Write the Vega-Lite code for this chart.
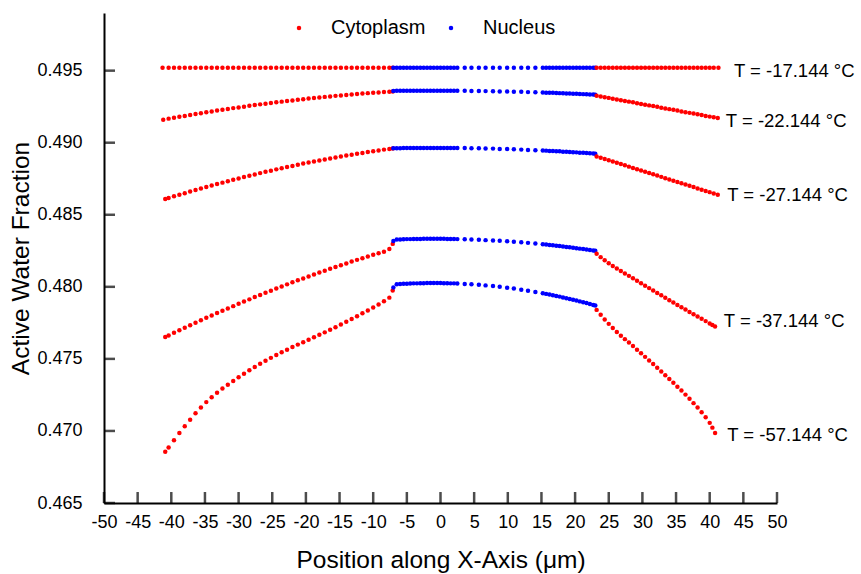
{"$schema":"https://vega.github.io/schema/vega-lite/v6.json","width":673,"height":490,"autosize":{"type":"none"},"padding":{"left":104,"top":13,"right":84,"bottom":71},"background":"white",
"config":{"view":{"stroke":null},"font":"Liberation Sans","axis":{"grid":false,"domainColor":"black","tickColor":"black","labelColor":"black","titleColor":"black","domainWidth":2,"tickWidth":2,"labelFont":"Liberation Sans","titleFont":"Liberation Sans","labelFontSize":18,"titleFontSize":24.5,"titleFontWeight":"normal"}},
"datasets":{
"xt":[{"v":-50},{"v":-45},{"v":-40},{"v":-35},{"v":-30},{"v":-25},{"v":-20},{"v":-15},{"v":-10},{"v":-5},{"v":0},{"v":5},{"v":10},{"v":15},{"v":20},{"v":25},{"v":30},{"v":35},{"v":40},{"v":45},{"v":50}],
"yt":[{"v":0.465},{"v":0.47},{"v":0.475},{"v":0.48},{"v":0.485},{"v":0.49},{"v":0.495}],
"labels":[{"x":43.6,"y":0.4950,"t":"T = -17.144 °C"},{"x":42.4,"y":0.49153,"t":"T = -22.144 °C"},{"x":42.6,"y":0.48639,"t":"T = -27.144 °C"},{"x":42.1,"y":0.47764,"t":"T = -37.144 °C"},{"x":42.6,"y":0.46972,"t":"T = -57.144 °C"}],
"pts":[
{"x":-41.3,"y":0.4952,"r":"C"},{"x":-40.4,"y":0.4952,"r":"C"},{"x":-39.6,"y":0.4952,"r":"C"},{"x":-38.8,"y":0.4952,"r":"C"},{"x":-38.0,"y":0.4952,"r":"C"},{"x":-37.2,"y":0.4952,"r":"C"},{"x":-36.4,"y":0.4952,"r":"C"},{"x":-35.6,"y":0.4952,"r":"C"},{"x":-34.8,"y":0.4952,"r":"C"},{"x":-34.0,"y":0.4952,"r":"C"},{"x":-33.2,"y":0.4952,"r":"C"},{"x":-32.4,"y":0.4952,"r":"C"},{"x":-31.6,"y":0.4952,"r":"C"},{"x":-30.8,"y":0.4952,"r":"C"},{"x":-30.0,"y":0.4952,"r":"C"},{"x":-29.2,"y":0.4952,"r":"C"},{"x":-28.4,"y":0.4952,"r":"C"},{"x":-27.6,"y":0.4952,"r":"C"},{"x":-26.8,"y":0.4952,"r":"C"},{"x":-26.0,"y":0.4952,"r":"C"},{"x":-25.2,"y":0.4952,"r":"C"},{"x":-24.4,"y":0.4952,"r":"C"},{"x":-23.6,"y":0.4952,"r":"C"},{"x":-22.8,"y":0.4952,"r":"C"},{"x":-22.0,"y":0.4952,"r":"C"},{"x":-21.2,"y":0.4952,"r":"C"},{"x":-20.4,"y":0.4952,"r":"C"},{"x":-19.6,"y":0.4952,"r":"C"},{"x":-18.8,"y":0.4952,"r":"C"},{"x":-18.0,"y":0.4952,"r":"C"},{"x":-17.2,"y":0.4952,"r":"C"},{"x":-16.4,"y":0.4952,"r":"C"},{"x":-15.6,"y":0.4952,"r":"C"},{"x":-14.8,"y":0.4952,"r":"C"},{"x":-14.0,"y":0.4952,"r":"C"},{"x":-13.2,"y":0.4952,"r":"C"},{"x":-12.4,"y":0.4952,"r":"C"},{"x":-11.6,"y":0.4952,"r":"C"},{"x":-10.8,"y":0.4952,"r":"C"},{"x":-10.0,"y":0.4952,"r":"C"},{"x":-9.2,"y":0.4952,"r":"C"},{"x":-8.4,"y":0.4952,"r":"C"},{"x":-7.6,"y":0.4952,"r":"C"},{"x":-7.1,"y":0.4952,"r":"C"},
{"x":-7.0,"y":0.4952,"r":"N"},{"x":-6.5,"y":0.4952,"r":"N"},{"x":-6.0,"y":0.4952,"r":"N"},{"x":-5.5,"y":0.4952,"r":"N"},{"x":-5.0,"y":0.4952,"r":"N"},{"x":-4.5,"y":0.4952,"r":"N"},{"x":-4.0,"y":0.4952,"r":"N"},{"x":-3.5,"y":0.4952,"r":"N"},{"x":-3.0,"y":0.4952,"r":"N"},{"x":-2.5,"y":0.4952,"r":"N"},{"x":-2.0,"y":0.4952,"r":"N"},{"x":-1.5,"y":0.4952,"r":"N"},{"x":-1.0,"y":0.4952,"r":"N"},{"x":-0.5,"y":0.4952,"r":"N"},{"x":0,"y":0.4952,"r":"N"},{"x":0.5,"y":0.4952,"r":"N"},{"x":1.0,"y":0.4952,"r":"N"},{"x":1.5,"y":0.4952,"r":"N"},{"x":2.0,"y":0.4952,"r":"N"},{"x":2.5,"y":0.4952,"r":"N"},{"x":3.6,"y":0.4952,"r":"N"},{"x":4.6,"y":0.4952,"r":"N"},{"x":5.7,"y":0.4952,"r":"N"},{"x":6.7,"y":0.4952,"r":"N"},{"x":7.8,"y":0.4952,"r":"N"},{"x":8.8,"y":0.4952,"r":"N"},{"x":9.9,"y":0.4952,"r":"N"},{"x":10.9,"y":0.4952,"r":"N"},{"x":12.0,"y":0.4952,"r":"N"},{"x":13.0,"y":0.4952,"r":"N"},{"x":14.1,"y":0.4952,"r":"N"},{"x":15.2,"y":0.4952,"r":"N"},{"x":15.7,"y":0.4952,"r":"N"},{"x":16.2,"y":0.4952,"r":"N"},{"x":16.7,"y":0.4952,"r":"N"},{"x":17.2,"y":0.4952,"r":"N"},{"x":17.7,"y":0.4952,"r":"N"},{"x":18.2,"y":0.4952,"r":"N"},{"x":18.7,"y":0.4952,"r":"N"},{"x":19.2,"y":0.4952,"r":"N"},{"x":19.7,"y":0.4952,"r":"N"},{"x":20.2,"y":0.4952,"r":"N"},{"x":20.7,"y":0.4952,"r":"N"},{"x":21.2,"y":0.4952,"r":"N"},{"x":21.7,"y":0.4952,"r":"N"},{"x":22.2,"y":0.4952,"r":"N"},{"x":22.7,"y":0.4952,"r":"N"},{"x":23.0,"y":0.4952,"r":"N"},
{"x":23.2,"y":0.4952,"r":"C"},{"x":23.8,"y":0.4952,"r":"C"},{"x":24.4,"y":0.4952,"r":"C"},{"x":25.0,"y":0.4952,"r":"C"},{"x":25.6,"y":0.4952,"r":"C"},{"x":26.2,"y":0.4952,"r":"C"},{"x":26.8,"y":0.4952,"r":"C"},{"x":27.4,"y":0.4952,"r":"C"},{"x":28.0,"y":0.4952,"r":"C"},{"x":28.6,"y":0.4952,"r":"C"},{"x":29.2,"y":0.4952,"r":"C"},{"x":29.8,"y":0.4952,"r":"C"},{"x":30.4,"y":0.4952,"r":"C"},{"x":31.0,"y":0.4952,"r":"C"},{"x":31.6,"y":0.4952,"r":"C"},{"x":32.2,"y":0.4952,"r":"C"},{"x":32.8,"y":0.4952,"r":"C"},{"x":33.4,"y":0.4952,"r":"C"},{"x":34.0,"y":0.4952,"r":"C"},{"x":34.6,"y":0.4952,"r":"C"},{"x":35.2,"y":0.4952,"r":"C"},{"x":35.8,"y":0.4952,"r":"C"},{"x":36.4,"y":0.4952,"r":"C"},{"x":37.0,"y":0.4952,"r":"C"},{"x":37.6,"y":0.4952,"r":"C"},{"x":38.2,"y":0.4952,"r":"C"},{"x":38.8,"y":0.4952,"r":"C"},{"x":39.4,"y":0.4952,"r":"C"},{"x":40.0,"y":0.4952,"r":"C"},{"x":40.6,"y":0.4952,"r":"C"},{"x":41.3,"y":0.4952,"r":"C"},
{"x":-41.2,"y":0.49160,"r":"C"},{"x":-40.4,"y":0.49167,"r":"C"},{"x":-39.6,"y":0.49173,"r":"C"},{"x":-38.8,"y":0.49180,"r":"C"},{"x":-38.0,"y":0.49186,"r":"C"},{"x":-37.2,"y":0.49193,"r":"C"},{"x":-36.4,"y":0.49199,"r":"C"},{"x":-35.6,"y":0.49205,"r":"C"},{"x":-34.8,"y":0.49211,"r":"C"},{"x":-34.0,"y":0.49217,"r":"C"},{"x":-33.2,"y":0.49223,"r":"C"},{"x":-32.4,"y":0.49229,"r":"C"},{"x":-31.6,"y":0.49234,"r":"C"},{"x":-30.8,"y":0.49240,"r":"C"},{"x":-30.0,"y":0.49245,"r":"C"},{"x":-29.2,"y":0.49250,"r":"C"},{"x":-28.4,"y":0.49256,"r":"C"},{"x":-27.6,"y":0.49261,"r":"C"},{"x":-26.8,"y":0.49266,"r":"C"},{"x":-26.0,"y":0.49271,"r":"C"},{"x":-25.2,"y":0.49275,"r":"C"},{"x":-24.4,"y":0.49280,"r":"C"},{"x":-23.6,"y":0.49285,"r":"C"},{"x":-22.8,"y":0.49289,"r":"C"},{"x":-22.0,"y":0.49293,"r":"C"},{"x":-21.2,"y":0.49298,"r":"C"},{"x":-20.4,"y":0.49302,"r":"C"},{"x":-19.6,"y":0.49306,"r":"C"},{"x":-18.8,"y":0.49310,"r":"C"},{"x":-18.0,"y":0.49314,"r":"C"},{"x":-17.2,"y":0.49318,"r":"C"},{"x":-16.4,"y":0.49321,"r":"C"},{"x":-15.6,"y":0.49325,"r":"C"},{"x":-14.8,"y":0.49328,"r":"C"},{"x":-14.0,"y":0.49331,"r":"C"},{"x":-13.2,"y":0.49335,"r":"C"},{"x":-12.4,"y":0.49338,"r":"C"},{"x":-11.6,"y":0.49341,"r":"C"},{"x":-10.8,"y":0.49344,"r":"C"},{"x":-10.0,"y":0.49347,"r":"C"},{"x":-9.2,"y":0.49349,"r":"C"},{"x":-8.4,"y":0.49352,"r":"C"},{"x":-7.6,"y":0.49354,"r":"C"},{"x":-7.1,"y":0.49356,"r":"C"},
{"x":-7.0,"y":0.49359,"r":"N"},{"x":-6.5,"y":0.49360,"r":"N"},{"x":-6.0,"y":0.49360,"r":"N"},{"x":-5.5,"y":0.49360,"r":"N"},{"x":-5.0,"y":0.49360,"r":"N"},{"x":-4.5,"y":0.49360,"r":"N"},{"x":-4.0,"y":0.49361,"r":"N"},{"x":-3.5,"y":0.49361,"r":"N"},{"x":-3.0,"y":0.49361,"r":"N"},{"x":-2.5,"y":0.49361,"r":"N"},{"x":-2.0,"y":0.49361,"r":"N"},{"x":-1.5,"y":0.49361,"r":"N"},{"x":-1.0,"y":0.49361,"r":"N"},{"x":-0.5,"y":0.49361,"r":"N"},{"x":0,"y":0.49361,"r":"N"},{"x":0.5,"y":0.49361,"r":"N"},{"x":1.0,"y":0.49361,"r":"N"},{"x":1.5,"y":0.49361,"r":"N"},{"x":2.0,"y":0.49361,"r":"N"},{"x":2.5,"y":0.49360,"r":"N"},{"x":3.6,"y":0.49360,"r":"N"},{"x":4.6,"y":0.49359,"r":"N"},{"x":5.7,"y":0.49359,"r":"N"},{"x":6.7,"y":0.49358,"r":"N"},{"x":7.8,"y":0.49357,"r":"N"},{"x":8.8,"y":0.49356,"r":"N"},{"x":9.9,"y":0.49355,"r":"N"},{"x":10.9,"y":0.49354,"r":"N"},{"x":12.0,"y":0.49353,"r":"N"},{"x":13.0,"y":0.49351,"r":"N"},{"x":14.1,"y":0.49350,"r":"N"},{"x":15.2,"y":0.49348,"r":"N"},{"x":15.7,"y":0.49347,"r":"N"},{"x":16.2,"y":0.49347,"r":"N"},{"x":16.7,"y":0.49346,"r":"N"},{"x":17.2,"y":0.49345,"r":"N"},{"x":17.7,"y":0.49344,"r":"N"},{"x":18.2,"y":0.49343,"r":"N"},{"x":18.7,"y":0.49342,"r":"N"},{"x":19.2,"y":0.49341,"r":"N"},{"x":19.7,"y":0.49340,"r":"N"},{"x":20.2,"y":0.49339,"r":"N"},{"x":20.7,"y":0.49338,"r":"N"},{"x":21.2,"y":0.49337,"r":"N"},{"x":21.7,"y":0.49336,"r":"N"},{"x":22.2,"y":0.49335,"r":"N"},{"x":22.7,"y":0.49334,"r":"N"},{"x":23.0,"y":0.49333,"r":"N"},
{"x":23.2,"y":0.49326,"r":"C"},{"x":23.8,"y":0.49321,"r":"C"},{"x":24.4,"y":0.49316,"r":"C"},{"x":25.0,"y":0.49311,"r":"C"},{"x":25.6,"y":0.49305,"r":"C"},{"x":26.2,"y":0.49300,"r":"C"},{"x":26.8,"y":0.49295,"r":"C"},{"x":27.4,"y":0.49290,"r":"C"},{"x":28.0,"y":0.49285,"r":"C"},{"x":28.6,"y":0.49280,"r":"C"},{"x":29.2,"y":0.49274,"r":"C"},{"x":29.8,"y":0.49269,"r":"C"},{"x":30.4,"y":0.49264,"r":"C"},{"x":31.0,"y":0.49259,"r":"C"},{"x":31.6,"y":0.49254,"r":"C"},{"x":32.2,"y":0.49249,"r":"C"},{"x":32.8,"y":0.49243,"r":"C"},{"x":33.4,"y":0.49238,"r":"C"},{"x":34.0,"y":0.49233,"r":"C"},{"x":34.6,"y":0.49228,"r":"C"},{"x":35.2,"y":0.49223,"r":"C"},{"x":35.8,"y":0.49217,"r":"C"},{"x":36.4,"y":0.49212,"r":"C"},{"x":37.0,"y":0.49207,"r":"C"},{"x":37.6,"y":0.49202,"r":"C"},{"x":38.2,"y":0.49197,"r":"C"},{"x":38.8,"y":0.49192,"r":"C"},{"x":39.4,"y":0.49186,"r":"C"},{"x":40.0,"y":0.49181,"r":"C"},{"x":40.6,"y":0.49176,"r":"C"},{"x":41.2,"y":0.49171,"r":"C"},
{"x":-40.9,"y":0.48609,"r":"C"},{"x":-40.4,"y":0.48616,"r":"C"},{"x":-39.6,"y":0.48628,"r":"C"},{"x":-38.8,"y":0.48639,"r":"C"},{"x":-38.0,"y":0.48650,"r":"C"},{"x":-37.2,"y":0.48661,"r":"C"},{"x":-36.4,"y":0.48672,"r":"C"},{"x":-35.6,"y":0.48682,"r":"C"},{"x":-34.8,"y":0.48693,"r":"C"},{"x":-34.0,"y":0.48703,"r":"C"},{"x":-33.2,"y":0.48713,"r":"C"},{"x":-32.4,"y":0.48723,"r":"C"},{"x":-31.6,"y":0.48733,"r":"C"},{"x":-30.8,"y":0.48743,"r":"C"},{"x":-30.0,"y":0.48752,"r":"C"},{"x":-29.2,"y":0.48762,"r":"C"},{"x":-28.4,"y":0.48771,"r":"C"},{"x":-27.6,"y":0.48780,"r":"C"},{"x":-26.8,"y":0.48789,"r":"C"},{"x":-26.0,"y":0.48798,"r":"C"},{"x":-25.2,"y":0.48806,"r":"C"},{"x":-24.4,"y":0.48815,"r":"C"},{"x":-23.6,"y":0.48823,"r":"C"},{"x":-22.8,"y":0.48831,"r":"C"},{"x":-22.0,"y":0.48839,"r":"C"},{"x":-21.2,"y":0.48847,"r":"C"},{"x":-20.4,"y":0.48855,"r":"C"},{"x":-19.6,"y":0.48862,"r":"C"},{"x":-18.8,"y":0.48869,"r":"C"},{"x":-18.0,"y":0.48877,"r":"C"},{"x":-17.2,"y":0.48884,"r":"C"},{"x":-16.4,"y":0.48891,"r":"C"},{"x":-15.6,"y":0.48897,"r":"C"},{"x":-14.8,"y":0.48904,"r":"C"},{"x":-14.0,"y":0.48911,"r":"C"},{"x":-13.2,"y":0.48917,"r":"C"},{"x":-12.4,"y":0.48923,"r":"C"},{"x":-11.6,"y":0.48929,"r":"C"},{"x":-10.8,"y":0.48935,"r":"C"},{"x":-10.0,"y":0.48941,"r":"C"},{"x":-9.2,"y":0.48946,"r":"C"},{"x":-8.4,"y":0.48952,"r":"C"},{"x":-7.6,"y":0.48957,"r":"C"},{"x":-7.1,"y":0.48960,"r":"C"},
{"x":-7.0,"y":0.48962,"r":"N"},{"x":-6.5,"y":0.48962,"r":"N"},{"x":-6.0,"y":0.48962,"r":"N"},{"x":-5.5,"y":0.48963,"r":"N"},{"x":-5.0,"y":0.48963,"r":"N"},{"x":-4.5,"y":0.48963,"r":"N"},{"x":-4.0,"y":0.48963,"r":"N"},{"x":-3.5,"y":0.48964,"r":"N"},{"x":-3.0,"y":0.48964,"r":"N"},{"x":-2.5,"y":0.48964,"r":"N"},{"x":-2.0,"y":0.48964,"r":"N"},{"x":-1.5,"y":0.48964,"r":"N"},{"x":-1.0,"y":0.48964,"r":"N"},{"x":-0.5,"y":0.48964,"r":"N"},{"x":0,"y":0.48964,"r":"N"},{"x":0.5,"y":0.48964,"r":"N"},{"x":1.0,"y":0.48964,"r":"N"},{"x":1.5,"y":0.48964,"r":"N"},{"x":2.0,"y":0.48963,"r":"N"},{"x":2.5,"y":0.48963,"r":"N"},{"x":3.6,"y":0.48963,"r":"N"},{"x":4.6,"y":0.48962,"r":"N"},{"x":5.7,"y":0.48961,"r":"N"},{"x":6.7,"y":0.48960,"r":"N"},{"x":7.8,"y":0.48959,"r":"N"},{"x":8.8,"y":0.48957,"r":"N"},{"x":9.9,"y":0.48956,"r":"N"},{"x":10.9,"y":0.48954,"r":"N"},{"x":12.0,"y":0.48952,"r":"N"},{"x":13.0,"y":0.48950,"r":"N"},{"x":14.1,"y":0.48948,"r":"N"},{"x":15.2,"y":0.48946,"r":"N"},{"x":15.7,"y":0.48945,"r":"N"},{"x":16.2,"y":0.48943,"r":"N"},{"x":16.7,"y":0.48942,"r":"N"},{"x":17.2,"y":0.48941,"r":"N"},{"x":17.7,"y":0.48940,"r":"N"},{"x":18.2,"y":0.48938,"r":"N"},{"x":18.7,"y":0.48937,"r":"N"},{"x":19.2,"y":0.48936,"r":"N"},{"x":19.7,"y":0.48934,"r":"N"},{"x":20.2,"y":0.48933,"r":"N"},{"x":20.7,"y":0.48931,"r":"N"},{"x":21.2,"y":0.48930,"r":"N"},{"x":21.7,"y":0.48928,"r":"N"},{"x":22.2,"y":0.48927,"r":"N"},{"x":22.7,"y":0.48925,"r":"N"},{"x":23.0,"y":0.48924,"r":"N"},
{"x":23.2,"y":0.48905,"r":"C"},{"x":23.8,"y":0.48896,"r":"C"},{"x":24.4,"y":0.48887,"r":"C"},{"x":25.0,"y":0.48878,"r":"C"},{"x":25.6,"y":0.48870,"r":"C"},{"x":26.2,"y":0.48861,"r":"C"},{"x":26.8,"y":0.48852,"r":"C"},{"x":27.4,"y":0.48843,"r":"C"},{"x":28.0,"y":0.48834,"r":"C"},{"x":28.6,"y":0.48825,"r":"C"},{"x":29.2,"y":0.48816,"r":"C"},{"x":29.8,"y":0.48807,"r":"C"},{"x":30.4,"y":0.48799,"r":"C"},{"x":31.0,"y":0.48790,"r":"C"},{"x":31.6,"y":0.48781,"r":"C"},{"x":32.2,"y":0.48772,"r":"C"},{"x":32.8,"y":0.48763,"r":"C"},{"x":33.4,"y":0.48754,"r":"C"},{"x":34.0,"y":0.48745,"r":"C"},{"x":34.6,"y":0.48736,"r":"C"},{"x":35.2,"y":0.48728,"r":"C"},{"x":35.8,"y":0.48719,"r":"C"},{"x":36.4,"y":0.48710,"r":"C"},{"x":37.0,"y":0.48701,"r":"C"},{"x":37.6,"y":0.48692,"r":"C"},{"x":38.2,"y":0.48683,"r":"C"},{"x":38.8,"y":0.48674,"r":"C"},{"x":39.4,"y":0.48665,"r":"C"},{"x":40.0,"y":0.48657,"r":"C"},{"x":40.6,"y":0.48648,"r":"C"},{"x":41.2,"y":0.48639,"r":"C"},
{"x":-40.9,"y":0.47652,"r":"C"},{"x":-40.4,"y":0.47663,"r":"C"},{"x":-39.6,"y":0.47681,"r":"C"},{"x":-38.8,"y":0.47699,"r":"C"},{"x":-38.0,"y":0.47716,"r":"C"},{"x":-37.2,"y":0.47734,"r":"C"},{"x":-36.4,"y":0.47751,"r":"C"},{"x":-35.6,"y":0.47768,"r":"C"},{"x":-34.8,"y":0.47785,"r":"C"},{"x":-34.0,"y":0.47801,"r":"C"},{"x":-33.2,"y":0.47818,"r":"C"},{"x":-32.4,"y":0.47834,"r":"C"},{"x":-31.6,"y":0.47850,"r":"C"},{"x":-30.8,"y":0.47866,"r":"C"},{"x":-30.0,"y":0.47882,"r":"C"},{"x":-29.2,"y":0.47898,"r":"C"},{"x":-28.4,"y":0.47913,"r":"C"},{"x":-27.6,"y":0.47929,"r":"C"},{"x":-26.8,"y":0.47944,"r":"C"},{"x":-26.0,"y":0.47959,"r":"C"},{"x":-25.2,"y":0.47973,"r":"C"},{"x":-24.4,"y":0.47988,"r":"C"},{"x":-23.6,"y":0.48002,"r":"C"},{"x":-22.8,"y":0.48017,"r":"C"},{"x":-22.0,"y":0.48031,"r":"C"},{"x":-21.2,"y":0.48045,"r":"C"},{"x":-20.4,"y":0.48058,"r":"C"},{"x":-19.6,"y":0.48072,"r":"C"},{"x":-18.8,"y":0.48086,"r":"C"},{"x":-18.0,"y":0.48099,"r":"C"},{"x":-17.2,"y":0.48112,"r":"C"},{"x":-16.4,"y":0.48125,"r":"C"},{"x":-15.6,"y":0.48137,"r":"C"},{"x":-14.8,"y":0.48150,"r":"C"},{"x":-14.0,"y":0.48162,"r":"C"},{"x":-13.2,"y":0.48175,"r":"C"},{"x":-12.4,"y":0.48187,"r":"C"},{"x":-11.6,"y":0.48198,"r":"C"},{"x":-10.8,"y":0.48210,"r":"C"},{"x":-10.0,"y":0.48222,"r":"C"},{"x":-9.2,"y":0.48233,"r":"C"},{"x":-8.4,"y":0.48244,"r":"C"},{"x":-7.6,"y":0.48262,"r":"C"},{"x":-7.1,"y":0.48298,"r":"C"},
{"x":-7.0,"y":0.48318,"r":"N"},{"x":-6.5,"y":0.48329,"r":"N"},{"x":-6.0,"y":0.48329,"r":"N"},{"x":-5.5,"y":0.48330,"r":"N"},{"x":-5.0,"y":0.48331,"r":"N"},{"x":-4.5,"y":0.48331,"r":"N"},{"x":-4.0,"y":0.48332,"r":"N"},{"x":-3.5,"y":0.48332,"r":"N"},{"x":-3.0,"y":0.48332,"r":"N"},{"x":-2.5,"y":0.48333,"r":"N"},{"x":-2.0,"y":0.48333,"r":"N"},{"x":-1.5,"y":0.48333,"r":"N"},{"x":-1.0,"y":0.48333,"r":"N"},{"x":-0.5,"y":0.48333,"r":"N"},{"x":0,"y":0.48333,"r":"N"},{"x":0.5,"y":0.48333,"r":"N"},{"x":1.0,"y":0.48332,"r":"N"},{"x":1.5,"y":0.48332,"r":"N"},{"x":2.0,"y":0.48332,"r":"N"},{"x":2.5,"y":0.48331,"r":"N"},{"x":3.6,"y":0.48330,"r":"N"},{"x":4.6,"y":0.48328,"r":"N"},{"x":5.7,"y":0.48327,"r":"N"},{"x":6.7,"y":0.48324,"r":"N"},{"x":7.8,"y":0.48322,"r":"N"},{"x":8.8,"y":0.48319,"r":"N"},{"x":9.9,"y":0.48316,"r":"N"},{"x":10.9,"y":0.48313,"r":"N"},{"x":12.0,"y":0.48309,"r":"N"},{"x":13.0,"y":0.48305,"r":"N"},{"x":14.1,"y":0.48300,"r":"N"},{"x":15.2,"y":0.48295,"r":"N"},{"x":15.7,"y":0.48293,"r":"N"},{"x":16.2,"y":0.48290,"r":"N"},{"x":16.7,"y":0.48288,"r":"N"},{"x":17.2,"y":0.48285,"r":"N"},{"x":17.7,"y":0.48283,"r":"N"},{"x":18.2,"y":0.48280,"r":"N"},{"x":18.7,"y":0.48277,"r":"N"},{"x":19.2,"y":0.48274,"r":"N"},{"x":19.7,"y":0.48271,"r":"N"},{"x":20.2,"y":0.48268,"r":"N"},{"x":20.7,"y":0.48265,"r":"N"},{"x":21.2,"y":0.48262,"r":"N"},{"x":21.7,"y":0.48259,"r":"N"},{"x":22.2,"y":0.48256,"r":"N"},{"x":22.7,"y":0.48252,"r":"N"},{"x":23.0,"y":0.48250,"r":"N"},
{"x":23.2,"y":0.48229,"r":"C"},{"x":23.8,"y":0.48206,"r":"C"},{"x":24.4,"y":0.48185,"r":"C"},{"x":25.0,"y":0.48164,"r":"C"},{"x":25.6,"y":0.48144,"r":"C"},{"x":26.2,"y":0.48127,"r":"C"},{"x":26.8,"y":0.48110,"r":"C"},{"x":27.4,"y":0.48093,"r":"C"},{"x":28.0,"y":0.48076,"r":"C"},{"x":28.6,"y":0.48059,"r":"C"},{"x":29.2,"y":0.48042,"r":"C"},{"x":29.8,"y":0.48025,"r":"C"},{"x":30.4,"y":0.48008,"r":"C"},{"x":31.0,"y":0.47991,"r":"C"},{"x":31.6,"y":0.47974,"r":"C"},{"x":32.2,"y":0.47957,"r":"C"},{"x":32.8,"y":0.47941,"r":"C"},{"x":33.4,"y":0.47924,"r":"C"},{"x":34.0,"y":0.47907,"r":"C"},{"x":34.6,"y":0.47891,"r":"C"},{"x":35.2,"y":0.47874,"r":"C"},{"x":35.8,"y":0.47858,"r":"C"},{"x":36.4,"y":0.47842,"r":"C"},{"x":37.0,"y":0.47826,"r":"C"},{"x":37.6,"y":0.47810,"r":"C"},{"x":38.2,"y":0.47794,"r":"C"},{"x":38.8,"y":0.47778,"r":"C"},{"x":39.4,"y":0.47762,"r":"C"},{"x":40.0,"y":0.47746,"r":"C"},{"x":40.4,"y":0.47735,"r":"C"},{"x":40.8,"y":0.47725,"r":"C"},
{"x":-40.9,"y":0.46856,"r":"C"},{"x":-40.4,"y":0.46885,"r":"C"},{"x":-39.6,"y":0.46935,"r":"C"},{"x":-38.8,"y":0.46985,"r":"C"},{"x":-38.0,"y":0.47033,"r":"C"},{"x":-37.2,"y":0.47078,"r":"C"},{"x":-36.4,"y":0.47122,"r":"C"},{"x":-35.6,"y":0.47163,"r":"C"},{"x":-34.8,"y":0.47200,"r":"C"},{"x":-34.0,"y":0.47234,"r":"C"},{"x":-33.2,"y":0.47265,"r":"C"},{"x":-32.4,"y":0.47294,"r":"C"},{"x":-31.6,"y":0.47321,"r":"C"},{"x":-30.8,"y":0.47347,"r":"C"},{"x":-30.0,"y":0.47372,"r":"C"},{"x":-29.2,"y":0.47397,"r":"C"},{"x":-28.4,"y":0.47421,"r":"C"},{"x":-27.6,"y":0.47444,"r":"C"},{"x":-26.8,"y":0.47466,"r":"C"},{"x":-26.0,"y":0.47487,"r":"C"},{"x":-25.2,"y":0.47507,"r":"C"},{"x":-24.4,"y":0.47527,"r":"C"},{"x":-23.6,"y":0.47546,"r":"C"},{"x":-22.8,"y":0.47564,"r":"C"},{"x":-22.0,"y":0.47582,"r":"C"},{"x":-21.2,"y":0.47599,"r":"C"},{"x":-20.4,"y":0.47616,"r":"C"},{"x":-19.6,"y":0.47633,"r":"C"},{"x":-18.8,"y":0.47650,"r":"C"},{"x":-18.0,"y":0.47667,"r":"C"},{"x":-17.2,"y":0.47684,"r":"C"},{"x":-16.4,"y":0.47702,"r":"C"},{"x":-15.6,"y":0.47720,"r":"C"},{"x":-14.8,"y":0.47738,"r":"C"},{"x":-14.0,"y":0.47757,"r":"C"},{"x":-13.2,"y":0.47776,"r":"C"},{"x":-12.4,"y":0.47796,"r":"C"},{"x":-11.6,"y":0.47816,"r":"C"},{"x":-10.8,"y":0.47836,"r":"C"},{"x":-10.0,"y":0.47857,"r":"C"},{"x":-9.2,"y":0.47878,"r":"C"},{"x":-8.4,"y":0.47900,"r":"C"},{"x":-7.6,"y":0.47925,"r":"C"},{"x":-7.1,"y":0.47975,"r":"C"},
{"x":-7.0,"y":0.47995,"r":"N"},{"x":-6.5,"y":0.48018,"r":"N"},{"x":-6.0,"y":0.48019,"r":"N"},{"x":-5.5,"y":0.48021,"r":"N"},{"x":-5.0,"y":0.48022,"r":"N"},{"x":-4.5,"y":0.48023,"r":"N"},{"x":-4.0,"y":0.48024,"r":"N"},{"x":-3.5,"y":0.48024,"r":"N"},{"x":-3.0,"y":0.48025,"r":"N"},{"x":-2.5,"y":0.48025,"r":"N"},{"x":-2.0,"y":0.48026,"r":"N"},{"x":-1.5,"y":0.48026,"r":"N"},{"x":-1.0,"y":0.48026,"r":"N"},{"x":-0.5,"y":0.48026,"r":"N"},{"x":0,"y":0.48026,"r":"N"},{"x":0.5,"y":0.48025,"r":"N"},{"x":1.0,"y":0.48025,"r":"N"},{"x":1.5,"y":0.48024,"r":"N"},{"x":2.0,"y":0.48024,"r":"N"},{"x":2.5,"y":0.48023,"r":"N"},{"x":3.6,"y":0.48020,"r":"N"},{"x":4.6,"y":0.48018,"r":"N"},{"x":5.7,"y":0.48014,"r":"N"},{"x":6.7,"y":0.48010,"r":"N"},{"x":7.8,"y":0.48005,"r":"N"},{"x":8.8,"y":0.48000,"r":"N"},{"x":9.9,"y":0.47994,"r":"N"},{"x":10.9,"y":0.47988,"r":"N"},{"x":12.0,"y":0.47980,"r":"N"},{"x":13.0,"y":0.47973,"r":"N"},{"x":14.1,"y":0.47964,"r":"N"},{"x":15.2,"y":0.47955,"r":"N"},{"x":15.7,"y":0.47951,"r":"N"},{"x":16.2,"y":0.47946,"r":"N"},{"x":16.7,"y":0.47941,"r":"N"},{"x":17.2,"y":0.47937,"r":"N"},{"x":17.7,"y":0.47932,"r":"N"},{"x":18.2,"y":0.47926,"r":"N"},{"x":18.7,"y":0.47921,"r":"N"},{"x":19.2,"y":0.47916,"r":"N"},{"x":19.7,"y":0.47910,"r":"N"},{"x":20.2,"y":0.47905,"r":"N"},{"x":20.7,"y":0.47899,"r":"N"},{"x":21.2,"y":0.47893,"r":"N"},{"x":21.7,"y":0.47887,"r":"N"},{"x":22.2,"y":0.47881,"r":"N"},{"x":22.7,"y":0.47874,"r":"N"},{"x":23.0,"y":0.47870,"r":"N"},
{"x":23.2,"y":0.47840,"r":"C"},{"x":23.8,"y":0.47806,"r":"C"},{"x":24.4,"y":0.47774,"r":"C"},{"x":25.0,"y":0.47743,"r":"C"},{"x":25.6,"y":0.47714,"r":"C"},{"x":26.2,"y":0.47686,"r":"C"},{"x":26.8,"y":0.47661,"r":"C"},{"x":27.4,"y":0.47637,"r":"C"},{"x":28.0,"y":0.47613,"r":"C"},{"x":28.6,"y":0.47589,"r":"C"},{"x":29.2,"y":0.47564,"r":"C"},{"x":29.8,"y":0.47539,"r":"C"},{"x":30.4,"y":0.47514,"r":"C"},{"x":31.0,"y":0.47489,"r":"C"},{"x":31.6,"y":0.47464,"r":"C"},{"x":32.2,"y":0.47439,"r":"C"},{"x":32.8,"y":0.47413,"r":"C"},{"x":33.4,"y":0.47387,"r":"C"},{"x":34.0,"y":0.47361,"r":"C"},{"x":34.6,"y":0.47334,"r":"C"},{"x":35.2,"y":0.47307,"r":"C"},{"x":35.8,"y":0.47280,"r":"C"},{"x":36.4,"y":0.47252,"r":"C"},{"x":37.0,"y":0.47223,"r":"C"},{"x":37.6,"y":0.47193,"r":"C"},{"x":38.2,"y":0.47162,"r":"C"},{"x":38.8,"y":0.47129,"r":"C"},{"x":39.4,"y":0.47095,"r":"C"},{"x":40.0,"y":0.47056,"r":"C"},{"x":40.4,"y":0.47023,"r":"C"},{"x":40.8,"y":0.46985,"r":"C"}
]},
"layer":[
{"data":{"name":"xt"},"mark":{"type":"tick","orient":"vertical","color":"black","thickness":2.5,"size":11},"encoding":{"x":{"field":"v","type":"quantitative"},"y":{"datum":0.46538,"type":"quantitative"}}},
{"data":{"name":"yt"},"mark":{"type":"tick","orient":"horizontal","color":"black","thickness":2.5,"size":11},"encoding":{"y":{"field":"v","type":"quantitative"},"x":{"datum":-49.18,"type":"quantitative"}}},
{"data":{"name":"pts"},"mark":{"type":"point","filled":true,"size":20,"opacity":1,"strokeWidth":0},
"encoding":{
"x":{"field":"x","type":"quantitative","scale":{"domain":[-50,50],"nice":false,"zero":false},"axis":{"values":[-50,-45,-40,-35,-30,-25,-20,-15,-10,-5,0,5,10,15,20,25,30,35,40,45,50],"tickCount":40,"labelExpr":"'' + datum.value","labelOverlap":false,"labelFlush":false,"title":"Position along X-Axis (μm)","ticks":false,"labelPadding":10,"titlePadding":17}},
"y":{"field":"y","type":"quantitative","scale":{"domain":[0.465,0.499],"nice":false,"zero":false},"axis":{"values":[0.465,0.47,0.475,0.48,0.485,0.49,0.495],"tickCount":20,"format":".3f","labelOverlap":false,"labelFlush":false,"title":"Active Water Fraction","ticks":false,"labelPadding":22,"titlePadding":3}},
"color":{"field":"r","type":"nominal","scale":{"domain":["C","N"],"range":["#ff0000","#0000ff"]},"legend":{"orient":"none","legendX":185,"legendY":5,"direction":"horizontal","title":null,"labelExpr":"datum.label == 'C' ? 'Cytoplasm' : 'Nucleus'","symbolType":"circle","symbolSize":20,"labelFontSize":20,"labelFont":"Liberation Sans","labelColor":"black","labelOffset":22,"columnPadding":15,"padding":0}}
}},
{"data":{"name":"labels"},"mark":{"type":"text","align":"left","baseline":"middle","fontSize":18.5,"font":"Liberation Sans","color":"black"},
"encoding":{"x":{"field":"x","type":"quantitative"},"y":{"field":"y","type":"quantitative"},"text":{"field":"t"}}}
]}
